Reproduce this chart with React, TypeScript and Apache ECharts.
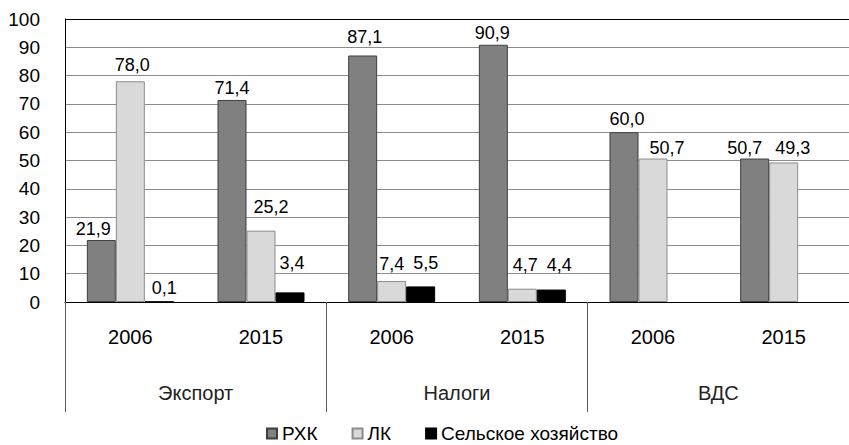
import React, { useEffect, useRef } from "react";
import * as echarts from "echarts";

const years = ["2006", "2015", "2006", "2015", "2006", "2015"];
const groups = ["Экспорт", "Налоги", "ВДС"];
const seriesNames = ["РХК", "ЛК", "Сельское хозяйство"];
const rhk = [21.9, 71.4, 87.1, 90.9, 60.0, 50.7];
const lk = [78.0, 25.2, 7.4, 4.7, 50.7, 49.3];
const agri: (number | null)[] = [0.1, 3.4, 5.5, 4.4, null, null];
const yTicks = { min: 0, max: 100, interval: 10 };

// label nudges [dx, dy] in pixels, relative to default top placement
const rhkNudge = [[-8, -2], [0, -3], [2, -10], [-1, -3], [3, -4], [-10, -2]];
const lkNudge = [[2, -7], [10, -15], [0, -8], [3, -15], [14, -2], [9, -5]];
const agriNudge = [[5, -4], [2, -20], [5, -14], [8, -16], [0, 0], [0, 0]];

const FONT = "'Liberation Sans', Arial, sans-serif";

const fmt = (v: number) => v.toFixed(1).replace(".", ",");

function buildData(values: (number | null)[], nudges: number[][]) {
  return values.map((v, i) =>
    v === null
      ? null
      : { value: v, label: { offset: nudges[i] } }
  );
}

export default function App() {
  const ref = useRef<HTMLDivElement>(null);
  useEffect(() => {
    if (!ref.current) return;
    const chart = echarts.init(ref.current, null, { renderer: "svg" });
    const labelCfg = {
      show: true,
      position: "top",
      distance: 0,
      fontFamily: FONT,
      fontSize: 18,
      lineHeight: 18,
      color: "#000",
      formatter: (p: any) => fmt(p.value),
    };
    const splitColors = Array.from({ length: 11 }, (_, i) => (i === 10 ? "#000000" : "#8c8c8c"));
    chart.setOption({
      animation: false,
      backgroundColor: "#ffffff",
      textStyle: { fontFamily: FONT },
      grid: { left: 65, top: 19, width: 788, height: 283, containLabel: false },
      legend: {
        left: 266,
        top: 424,
        padding: 0,
        itemWidth: 10,
        itemHeight: 10,
        itemGap: 34,
        icon: "rect",
        textStyle: { fontFamily: FONT, fontSize: 19, lineHeight: 19, color: "#000" },
        data: seriesNames,
      },
      xAxis: [
        {
          type: "category",
          data: years,
          position: "bottom",
          axisLine: { show: true, lineStyle: { color: "#000", width: 1 } },
          axisTick: { show: false },
          axisLabel: {
            interval: 0,
            margin: 25,
            fontFamily: FONT,
            fontSize: 20,
            lineHeight: 20,
            color: "#000",
          },
          splitLine: { show: false },
        },
        {
          type: "category",
          data: groups,
          position: "bottom",
          gridIndex: 0,
          axisLine: { show: false },
          axisTick: { show: true, interval: 0, length: 110, lineStyle: { color: "#595959", width: 1 } },
          axisLabel: {
            interval: 0,
            margin: 81,
            fontFamily: FONT,
            fontSize: 20,
            lineHeight: 20,
            color: "#222",
          },
          splitLine: { show: false },
        },
      ],
      yAxis: {
        type: "value",
        min: yTicks.min,
        max: yTicks.max,
        interval: yTicks.interval,
        axisLine: { show: true, lineStyle: { color: "#000", width: 1 } },
        axisTick: { show: false },
        axisLabel: { margin: 25, fontFamily: FONT, fontSize: 19, color: "#000" },
        splitLine: { show: true, lineStyle: { color: splitColors, width: 1 } },
      },
      series: [
        {
          name: seriesNames[0],
          type: "bar",
          xAxisIndex: 0,
          barWidth: 29,
          barGap: "0%",
          itemStyle: { color: "#808080", borderColor: "#3f3f3f", borderWidth: 1 },
          label: labelCfg,
          data: buildData(rhk, rhkNudge),
        },
        {
          name: seriesNames[1],
          type: "bar",
          xAxisIndex: 0,
          barWidth: 29,
          barGap: "0%",
          itemStyle: { color: "#d9d9d9", borderColor: "#8c8c8c", borderWidth: 1 },
          label: labelCfg,
          data: buildData(lk, lkNudge),
        },
        {
          name: seriesNames[2],
          type: "bar",
          xAxisIndex: 0,
          barWidth: 29,
          barGap: "0%",
          itemStyle: { color: "#000000", borderColor: "#000000", borderWidth: 1 },
          label: labelCfg,
          data: buildData(agri, agriNudge),
        },
      ],
    });
    return () => chart.dispose();
  }, []);
  return (
    <div
      ref={ref}
      style={{ position: "fixed", left: 0, top: 0, width: 849, height: 445 }}
    />
  );
}
